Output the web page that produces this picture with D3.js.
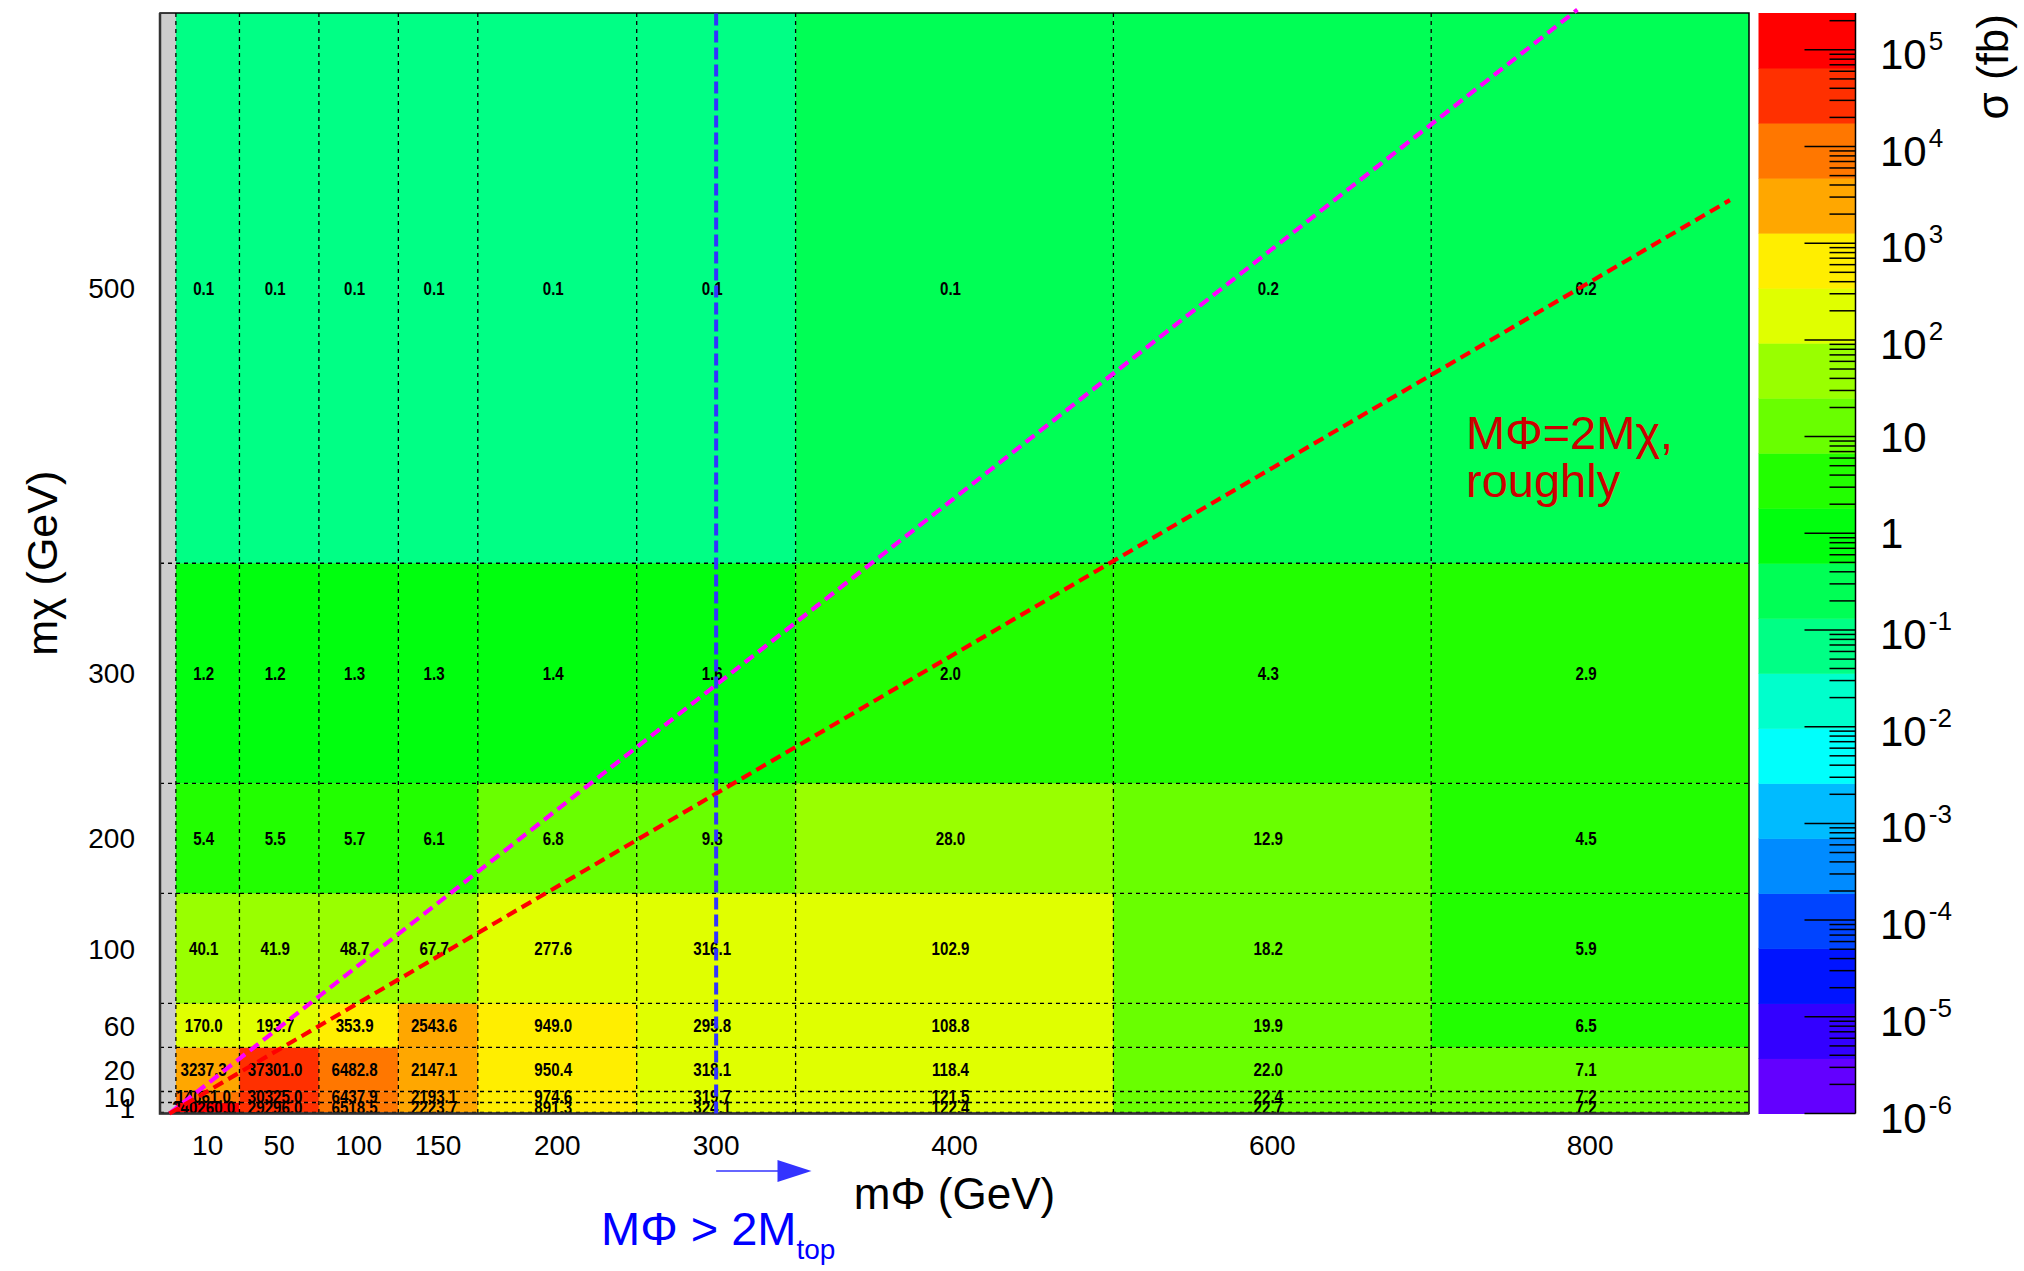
<!DOCTYPE html>
<html>
<head>
<meta charset="utf-8">
<script src="https://cdn.jsdelivr.net/npm/d3@7"></script>
<style>
  html, body { margin: 0; padding: 0; background: #fff; }
  svg { display: block; }
  text { font-family: "Liberation Sans", Arial, Helvetica, sans-serif; }
</style>
</head>
<body>
<svg id="chart" width="2024" height="1271"></svg>
<script>
// ---- bin edges (GeV) and their labels ----
const xEdges = [0, 10, 50, 100, 150, 200, 300, 400, 600, 800, 1000];
const yEdges = [0, 1, 10, 20, 60, 100, 200, 300, 500, 1000];
const xLabels = ["10", "50", "100", "150", "200", "300", "400", "600", "800"];
const yLabels = ["1", "10", "20", "60", "100", "200", "300", "500"];

// ---- cross sections (fb), one array per m_chi row, ordered by m_phi bin ----
const row1   = [240260.0, 29296.0, 6518.5, 2223.7, 891.3, 324.1, 122.4, 22.7, 7.2];
const row10  = [14061.0, 30325.0, 6437.9, 2193.1, 974.6, 319.7, 121.5, 22.4, 7.2];
const row20  = [3237.3, 37301.0, 6482.8, 2147.1, 950.4, 318.1, 118.4, 22.0, 7.1];
const row60  = [170.0, 193.7, 353.9, 2543.6, 949.0, 295.8, 108.8, 19.9, 6.5];
const row100 = [40.1, 41.9, 48.7, 67.7, 277.6, 316.1, 102.9, 18.2, 5.9];
const row200 = [5.4, 5.5, 5.7, 6.1, 6.8, 9.8, 28.0, 12.9, 4.5];
const row300 = [1.2, 1.2, 1.3, 1.3, 1.4, 1.6, 2.0, 4.3, 2.9];
const row500 = [0.1, 0.1, 0.1, 0.1, 0.1, 0.1, 0.14, 0.2, 0.2];
const rows = [row1, row10, row20, row60, row100, row200, row300, row500];

// ---- colour axis ----
const zMin = 1e-6;
const nContours = 20;
const zDecades = [-6, -5, -4, -3, -2, -1, 0, 1, 2, 3, 4, 5];

// ---- guide lines (data coordinates) ----
const magentaLine = [[6, 0], [892, 1003]];
const redLine = [[6, 0], [988, 830]];
const topThresholdX = 350;          // 2 * m_top
const arrowX = [350, 410];

// ---- geometry ----
const W = 2024, H = 1271;
const frame = { left: 160, right: 1749, top: 13, bottom: 1113.5 };
const bar = { left: 1758.5, right: 1855.5 };

const svg = d3.select("#chart");
svg.append("rect").attr("width", W).attr("height", H).attr("fill", "#fff");

const x = d3.scaleLinear().domain([0, 1000]).range([frame.left, frame.right]);
const y = d3.scaleLinear().domain([0, 1000]).range([frame.bottom, frame.top]);

// pretty violet->red palette (50 hues), sampled into the contour levels
const palette = d3.range(50).map(k => d3.hsl(280 - (k + 1) * 5.6, 1, 0.5).formatHex());
const levelColors = d3.range(nContours).map(j => palette[Math.floor((j + 0.99) * 50 / nContours)]);

const zMax = d3.max(rows.flat());
const lMin = Math.log10(zMin), lMax = Math.log10(zMax);
const color = d3.scaleQuantize().domain([lMin, lMax]).range(levelColors);

// frame background (bins without content)
svg.append("rect")
  .attr("x", frame.left).attr("y", frame.top)
  .attr("width", frame.right - frame.left).attr("height", frame.bottom - frame.top)
  .attr("fill", "#cccccc");

// cells
const cells = [];
rows.forEach((vals, i) => {
  vals.forEach((v, j) => {
    cells.push({ x0: xEdges[j + 1], x1: xEdges[j + 2], y0: yEdges[i + 1], y1: yEdges[i + 2], v });
  });
});

svg.append("g").selectAll("rect").data(cells).join("rect")
  .attr("x", d => x(d.x0))
  .attr("y", d => y(d.y1))
  .attr("width", d => x(d.x1) - x(d.x0))
  .attr("height", d => y(d.y0) - y(d.y1))
  .attr("fill", d => color(Math.log10(d.v)));

// grid at inner bin edges
const grid = svg.append("g").attr("stroke", "#000").attr("stroke-width", 1.3).attr("stroke-dasharray", "4,4");
grid.selectAll("line.v").data(xEdges.slice(1, -1)).join("line")
  .attr("x1", d => x(d)).attr("x2", d => x(d))
  .attr("y1", frame.top).attr("y2", frame.bottom);
grid.selectAll("line.h").data(yEdges.slice(1, -1)).join("line")
  .attr("y1", d => y(d)).attr("y2", d => y(d))
  .attr("x1", frame.left).attr("x2", frame.right);

// cell values
const fmt = d3.format(".1f");
svg.append("g").selectAll("text").data(cells).join("text")
  .attr("transform", d => `translate(${(x(d.x0) + x(d.x1)) / 2 - 4},${(y(d.y0) + y(d.y1)) / 2}) scale(0.84,1)`)
  .attr("text-anchor", "middle")
  .attr("dy", "0.36em")
  .attr("font-size", 18)
  .attr("font-weight", "bold")
  .attr("fill", "#000")
  .text(d => fmt(d.v));

// frame
svg.append("rect")
  .attr("x", frame.left).attr("y", frame.top)
  .attr("width", frame.right - frame.left).attr("height", frame.bottom - frame.top)
  .attr("fill", "none").attr("stroke", "#000").attr("stroke-width", 1.5);
svg.append("path")
  .attr("d", `M${frame.left},${frame.top} V${frame.bottom} H${frame.right}`)
  .attr("fill", "none").attr("stroke", "#333").attr("stroke-width", 2.5);

// bin labels
svg.append("g").selectAll("text").data(xLabels).join("text")
  .attr("x", (d, j) => (x(xEdges[j + 1]) + x(xEdges[j + 2])) / 2)
  .attr("y", 1155)
  .attr("text-anchor", "middle")
  .attr("font-size", 28)
  .text(d => d);

svg.append("g").selectAll("text").data(yLabels).join("text")
  .attr("x", 135)
  .attr("y", (d, i) => (y(yEdges[i + 1]) + y(yEdges[i + 2])) / 2)
  .attr("dy", "0.36em")
  .attr("text-anchor", "end")
  .attr("font-size", 28)
  .text(d => d);

// axis titles
svg.append("text")
  .attr("x", (frame.left + frame.right) / 2).attr("y", 1209)
  .attr("text-anchor", "middle").attr("font-size", 44)
  .text("mΦ (GeV)");

svg.append("text")
  .attr("transform", `translate(57,${(frame.top + frame.bottom) / 2}) rotate(-90)`)
  .attr("text-anchor", "middle").attr("font-size", 43)
  .text("mχ (GeV)");

// guide lines
const line = d3.line().x(d => x(d[0])).y(d => y(d[1]));
svg.append("path").attr("d", line(magentaLine))
  .attr("fill", "none").attr("stroke", "#ff00ff").attr("stroke-width", 4.2).attr("stroke-dasharray", "11,6");
svg.append("path").attr("d", line(redLine))
  .attr("fill", "none").attr("stroke", "#ff0000").attr("stroke-width", 4.2).attr("stroke-dasharray", "11,6");
svg.append("path").attr("d", line([[topThresholdX, 0], [topThresholdX, 1000]]))
  .attr("fill", "none").attr("stroke", "#3333ff").attr("stroke-width", 4).attr("stroke-dasharray", "12,5");

// arrow below the axis
const arrowY = 1171;
const tipX = x(arrowX[1]);
svg.append("line")
  .attr("x1", x(arrowX[0])).attr("x2", tipX - 30)
  .attr("y1", arrowY).attr("y2", arrowY)
  .attr("stroke", "#3333ff").attr("stroke-width", 1.5);
svg.append("path")
  .attr("d", `M${tipX},${arrowY} L${tipX - 34},${arrowY - 11} L${tipX - 34},${arrowY + 11} Z`)
  .attr("fill", "#3333ff");

// annotations
const blueLabel = svg.append("text").attr("x", 601).attr("y", 1245).attr("font-size", 47).attr("fill", "#0000ff");
blueLabel.append("tspan").text("MΦ > 2M");
blueLabel.append("tspan").attr("font-size", 28).attr("dy", 14).text("top");

const redLabel = svg.append("text").attr("font-size", 47).attr("fill", "#cc0000");
redLabel.append("tspan").attr("x", 1466).attr("y", 449).text("MΦ=2Mχ,");
redLabel.append("tspan").attr("x", 1466).attr("y", 497).text("roughly");

// ---- colour bar ----
const z = d3.scaleLog().domain([zMin, zMax]).range([frame.bottom, frame.top]);
const step = (lMax - lMin) / nContours;
const bands = d3.range(nContours).map(j => ({ lo: Math.pow(10, lMin + j * step), hi: Math.pow(10, lMin + (j + 1) * step), c: levelColors[j] }));

svg.append("g").selectAll("rect").data(bands).join("rect")
  .attr("x", bar.left).attr("width", bar.right - bar.left)
  .attr("y", d => z(d.hi)).attr("height", d => z(d.lo) - z(d.hi) + 0.5)
  .attr("fill", d => d.c);

const minorTicks = [];
zDecades.forEach(e => {
  for (let m = 2; m <= 9; m++) {
    const v = m * Math.pow(10, e);
    if (v <= zMax) minorTicks.push(v);
  }
});
const ticks = svg.append("g").attr("stroke", "#000").attr("stroke-width", 1.5);
ticks.selectAll("line.minor").data(minorTicks).join("line")
  .attr("x1", bar.right - 26).attr("x2", bar.right)
  .attr("y1", d => z(d)).attr("y2", d => z(d));
ticks.selectAll("line.major").data(zDecades).join("line")
  .attr("x1", bar.right - 51).attr("x2", bar.right)
  .attr("y1", e => z(Math.pow(10, e))).attr("y2", e => z(Math.pow(10, e)));
svg.append("line")
  .attr("x1", bar.right).attr("x2", bar.right)
  .attr("y1", frame.top).attr("y2", frame.bottom)
  .attr("stroke", "#000").attr("stroke-width", 1.5);

const zLabels = svg.append("g").selectAll("text").data(zDecades).join("text")
  .attr("x", 1880)
  .attr("y", e => z(Math.pow(10, e)) + (e === 0 || e === 1 ? 15 : 19))
  .attr("font-size", 42);
zLabels.each(function (e) {
  const t = d3.select(this);
  if (e === 0) { t.text("1"); return; }
  if (e === 1) { t.text("10"); return; }
  t.append("tspan").text("10");
  t.append("tspan").attr("font-size", 26).attr("dx", 2).attr("dy", -19).text(String(e));
});

svg.append("text")
  .attr("transform", "translate(2008,14) rotate(-90)")
  .attr("text-anchor", "end").attr("font-size", 44)
  .text("σ (fb)");
</script>
</body>
</html>
